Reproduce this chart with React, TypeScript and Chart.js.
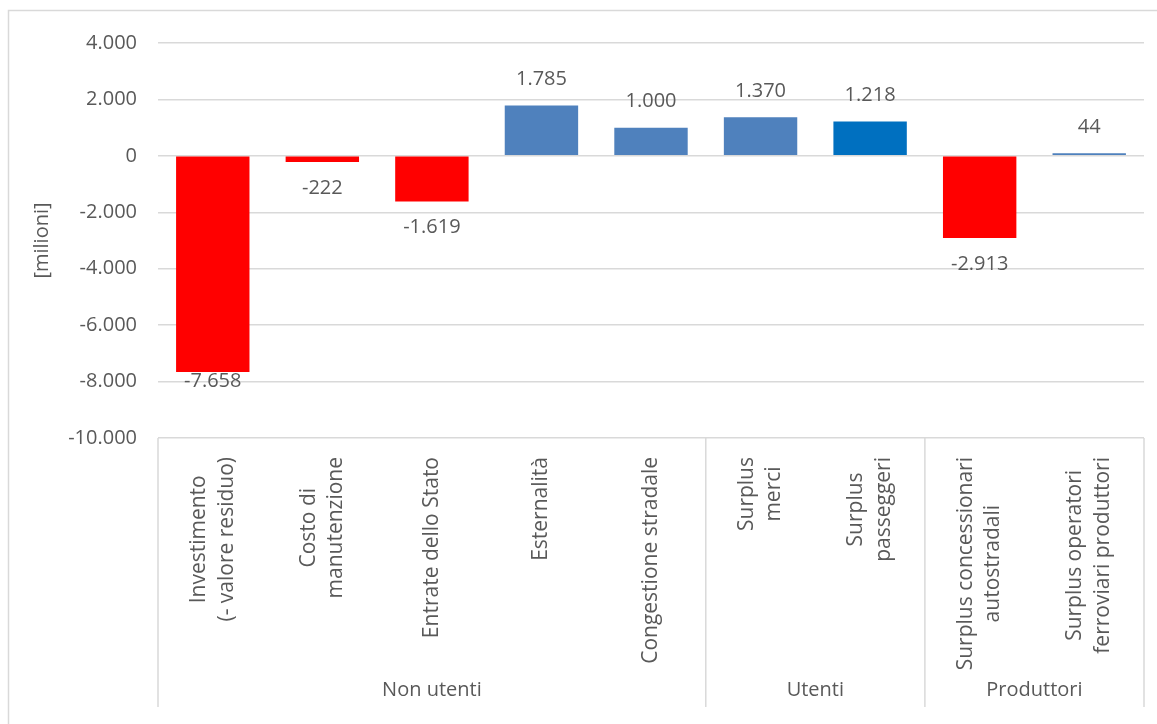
import React, { useEffect, useRef } from "react";
import { Chart, registerables } from "chart.js";

Chart.register(...registerables);

const categories: string[][] = [
  ["Investimento", "(- valore residuo)"],
  ["Costo di", "manutenzione"],
  ["Entrate dello Stato"],
  ["Esternalità"],
  ["Congestione stradale"],
  ["Surplus", "merci"],
  ["Surplus", "passeggeri"],
  ["Surplus concessionari", "autostradali"],
  ["Surplus operatori", "ferroviari produttori"],
];
const values: number[] = [-7658, -222, -1619, 1785, 1000, 1370, 1218, -2913, 44];
const groups: string[] = ["Non utenti", "Utenti", "Produttori"];
const groupSizes: number[] = [5, 2, 2];
const yTicks: number[] = [-10000, -8000, -6000, -4000, -2000, 0, 2000, 4000];
const yTitle = "[milioni]";

const RED = "#FF0000";
const BLUE = "#4F81BD";
const DARK_BLUE = "#0070C0";
const barColors = values.map((v, i) => (v < 0 ? RED : i === 6 ? DARK_BLUE : BLUE));

const FONT = "'Open Sans', sans-serif";
const TEXT = "#595959";
const LINE = "#d9d9d9";

function fmt(v: number): string {
  const s = Math.abs(Math.round(v)).toString();
  const g = s.replace(/\B(?=(\d{3})+(?!\d))/g, ".");
  return (v < 0 ? "-" : "") + g;
}

const decorPlugin = {
  id: "decor",
  afterDraw(chart: any) {
    const ctx = chart.ctx as CanvasRenderingContext2D;
    const x = chart.scales.x;
    const area = chart.chartArea;
    const n = categories.length;
    const cw = (area.right - area.left) / n;
    ctx.save();

    // outer border
    ctx.strokeStyle = LINE;
    ctx.lineWidth = 1.5;
    ctx.strokeRect(8.5, 10.5, 1200, 800);

    // y title
    ctx.save();
    ctx.fillStyle = TEXT;
    ctx.font = `20px ${FONT}`;
    ctx.translate(42, (area.top + area.bottom) / 2);
    ctx.rotate(-Math.PI / 2);
    ctx.textAlign = "center";
    ctx.textBaseline = "middle";
    ctx.fillText(yTitle, 0, 0);
    ctx.restore();

    // category box separators
    const boxBottom = 707;
    ctx.strokeStyle = LINE;
    ctx.lineWidth = 1.5;
    let idx = 0;
    const bounds = [0];
    groupSizes.forEach((s) => {
      idx += s;
      bounds.push(idx);
    });
    bounds.forEach((b) => {
      const px = area.left + b * cw;
      ctx.beginPath();
      ctx.moveTo(px, area.bottom);
      ctx.lineTo(px, boxBottom);
      ctx.stroke();
    });

    // category labels (rotated)
    ctx.fillStyle = TEXT;
    ctx.font = `21px ${FONT}`;
    const topY = 457;
    const lh = 27.5;
    categories.forEach((lines, i) => {
      const cx = x.getPixelForValue(i);
      const w = Math.max(...lines.map((l) => ctx.measureText(l).width));
      ctx.save();
      ctx.translate(cx, topY);
      ctx.rotate(-Math.PI / 2);
      ctx.textAlign = "center";
      ctx.textBaseline = "middle";
      lines.forEach((l, j) => {
        ctx.fillText(l, -w / 2, (j - (lines.length - 1) / 2) * lh);
      });
      ctx.restore();
    });

    // group labels
    ctx.font = `20px ${FONT}`;
    ctx.textAlign = "center";
    ctx.textBaseline = "middle";
    groups.forEach((g, k) => {
      const gx = area.left + ((bounds[k] + bounds[k + 1]) / 2) * cw;
      ctx.fillText(g, gx, 690);
    });

    // data labels
    const meta = chart.getDatasetMeta(0);
    meta.data.forEach((bar: any, i: number) => {
      const v = values[i];
      const off = i === 0 ? 9 : 26;
      const ly = v < 0 ? bar.y + off : bar.y - off;
      ctx.fillText(fmt(v), bar.x, ly);
    });

    ctx.restore();
  },
};

export default function App() {
  const ref = useRef<HTMLCanvasElement | null>(null);
  useEffect(() => {
    if (!ref.current) return;
    const chart = new Chart(ref.current, {
      type: "bar",
      data: {
        labels: categories.map((c) => c.join(" ")),
        datasets: [
          {
            data: values,
            backgroundColor: barColors,
            borderWidth: 0,
            minBarLength: 2.5,
            barPercentage: 0.67,
            categoryPercentage: 1,
          },
        ],
      },
      options: {
        animation: false,
        responsive: true,
        maintainAspectRatio: false,
        layout: { padding: { left: 0, top: 43, right: 13, bottom: 286 } },
        plugins: { legend: { display: false }, tooltip: { enabled: false } },
        scales: {
          x: {
            grid: { display: false },
            border: { display: false },
            ticks: { display: false },
            afterFit: (s: any) => {
              s.height = 0;
            },
          },
          y: {
            min: -10000,
            max: 4000,
            afterBuildTicks: (s: any) => {
              s.ticks = yTicks.map((v) => ({ value: v }));
            },
            afterFit: (s: any) => {
              s.width = 158;
            },
            grid: { color: LINE, lineWidth: 1.5, drawTicks: false },
            border: { display: false },
            ticks: {
              padding: 21,
              color: TEXT,
              font: { family: FONT, size: 20 },
              callback: (v: any) => fmt(Number(v)),
            },
          },
        },
      },
      plugins: [decorPlugin],
    });
    return () => chart.destroy();
  }, []);
  return (
    <div style={{ position: "fixed", left: 0, top: 0, width: 1157, height: 724, background: "#fff" }}>
      <canvas ref={ref} />
    </div>
  );
}
